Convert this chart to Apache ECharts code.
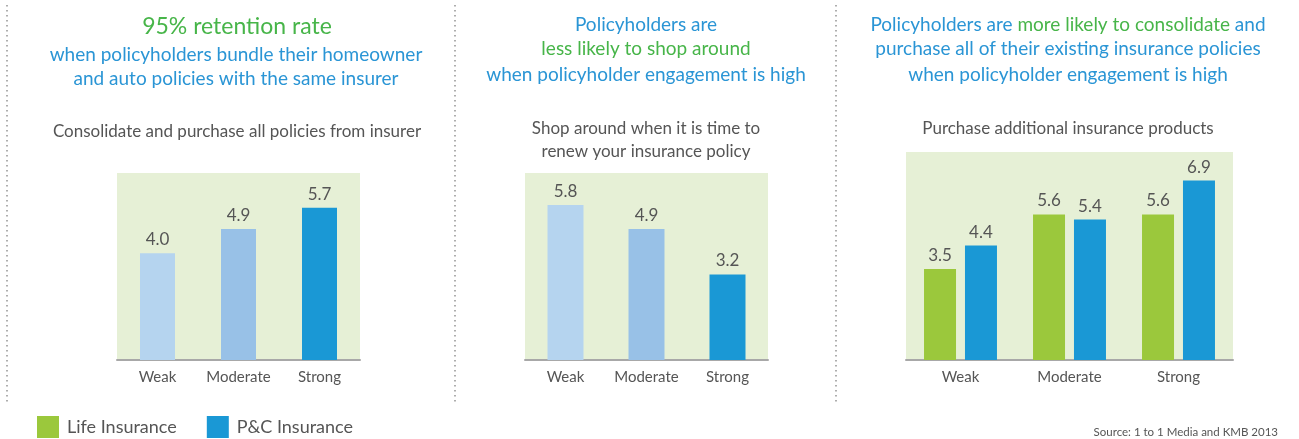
<!DOCTYPE html>
<html>
<head>
<meta charset="utf-8">
<script src="https://cdn.jsdelivr.net/npm/echarts@6/dist/echarts.min.js"></script>
<style>
html,body{margin:0;padding:0;background:#fff;}
#chart{width:1299px;height:439px;}
</style>
</head>
<body>
<div id="chart"></div>
<script>
// ---- data ----
var categories = ['Weak', 'Moderate', 'Strong'];
var consolidateValues = [4.0, 4.9, 5.7];
var shopAroundValues = [5.8, 4.9, 3.2];
var lifeValues = [3.5, 5.6, 5.6];
var pcValues = [4.4, 5.4, 6.9];
var legendNames = ['Life Insurance', 'P&C Insurance'];

// ---- styles ----
var FONT = 'Lato';
var GREEN = '#47b549';
var BLUE = '#2a95d5';
var GREY = '#555555';
var BAR_GREEN = '#9bc83c';
var BAR_BLUE = '#1a98d5';
var shades = ['#b5d4ef', '#98c1e7', '#1a98d5'];
var BG = '#e6f0d6';

var chart = echarts.init(document.getElementById('chart'), null, {renderer: 'canvas'});

function shaded(vals) {
  return vals.map(function (v, i) { return {value: v, itemStyle: {color: shades[i]}}; });
}
var labelCfg = {
  show: true, position: 'top', distance: 5, color: GREY, fontSize: 17, fontFamily: FONT,
  formatter: function (p) { return Number(p.value).toFixed(1); }
};
function xAxisCfg(gi) {
  return {
    type: 'category', gridIndex: gi, data: categories,
    axisLine: {show: true, lineStyle: {color: '#a8a8a8', width: 2}},
    axisTick: {show: false},
    axisLabel: {color: GREY, fontSize: 15, fontFamily: FONT, margin: 10, interval: 0}
  };
}
function yAxisCfg(gi, max) {
  return {
    type: 'value', gridIndex: gi, min: 0, max: max,
    show: false, splitLine: {show: false}
  };
}

function txt(x, y, text, size, color, rich) {
  var st = {
    text: text, x: x, y: y, align: 'center', verticalAlign: 'middle',
    fontSize: size, fontFamily: FONT, fill: color
  };
  if (rich) st.rich = rich;
  return {type: 'text', silent: true, style: st};
}
function dotted(x) {
  return {
    type: 'line', silent: true,
    shape: {x1: x, y1: 5, x2: x, y2: 404},
    style: {stroke: '#9a9a9a', lineWidth: 1.6, lineDash: [1.6, 3.4]}
  };
}
var richMix = {
  b: {fontSize: 19, fontFamily: FONT, fill: BLUE},
  g: {fontSize: 19, fontFamily: FONT, fill: GREEN}
};

var option = {
  animation: false,
  backgroundColor: '#ffffff',
  textStyle: {fontFamily: FONT},
  grid: [
    {left: 117, top: 173, width: 243, height: 187, show: true, backgroundColor: BG, borderWidth: 0},
    {left: 525, top: 173, width: 243, height: 187, show: true, backgroundColor: BG, borderWidth: 0},
    {left: 906, top: 152, width: 327, height: 208, show: true, backgroundColor: BG, borderWidth: 0}
  ],
  xAxis: [xAxisCfg(0), xAxisCfg(1), xAxisCfg(2)],
  yAxis: [yAxisCfg(0, 7), yAxisCfg(1, 7), yAxisCfg(2, 8)],
  legend: {
    data: legendNames, left: 37, top: 416, padding: 0, itemWidth: 22, itemHeight: 22, itemGap: 30,
    icon: 'rect', textStyle: {color: GREY, fontSize: 18, fontFamily: FONT, padding: [2, 0, 0, 3]}
  },
  series: [
    {name: 'Consolidate', type: 'bar', xAxisIndex: 0, yAxisIndex: 0, barWidth: 35,
     data: shaded(consolidateValues), label: labelCfg},
    {name: 'Shop around', type: 'bar', xAxisIndex: 1, yAxisIndex: 1, barWidth: 36,
     data: shaded(shopAroundValues), label: labelCfg},
    {name: legendNames[0], type: 'bar', xAxisIndex: 2, yAxisIndex: 2, barWidth: 32, barGap: '28%',
     itemStyle: {color: BAR_GREEN}, data: lifeValues, label: labelCfg},
    {name: legendNames[1], type: 'bar', xAxisIndex: 2, yAxisIndex: 2, barWidth: 32, barGap: '28%',
     itemStyle: {color: BAR_BLUE}, data: pcValues, label: labelCfg}
  ],
  graphic: [
    dotted(7), dotted(455), dotted(836),
    txt(237, 27, '95% retention rate', 23, GREEN),
    txt(236, 55, 'when policyholders bundle their homeowner', 19, BLUE),
    txt(236, 79, 'and auto policies with the same insurer', 19, BLUE),
    txt(237, 132, 'Consolidate and purchase all policies from insurer', 17, GREY),
    txt(646, 25, 'Policyholders are', 19, BLUE),
    txt(646, 49, 'less likely to shop around', 19, GREEN),
    txt(646, 75, 'when policyholder engagement is high', 19, BLUE),
    txt(646, 129, 'Shop around when it is time to', 17, GREY),
    txt(646, 152, 'renew your insurance policy', 17, GREY),
    txt(1068, 25, '{b|Policyholders are }{g|more likely to consolidate}{b| and}', 19, BLUE, richMix),
    txt(1068, 49, 'purchase all of their existing insurance policies', 19, BLUE),
    txt(1068, 75, 'when policyholder engagement is high', 19, BLUE),
    txt(1068, 129, 'Purchase additional insurance products', 17, GREY),
    {type: 'text', silent: true, style: {text: 'Source: 1 to 1 Media and KMB 2013', x: 1278, y: 432,
      align: 'right', verticalAlign: 'middle', fontSize: 11.5, fontFamily: FONT, fill: GREY}}
  ]
};
chart.setOption(option);
</script>
</body>
</html>
